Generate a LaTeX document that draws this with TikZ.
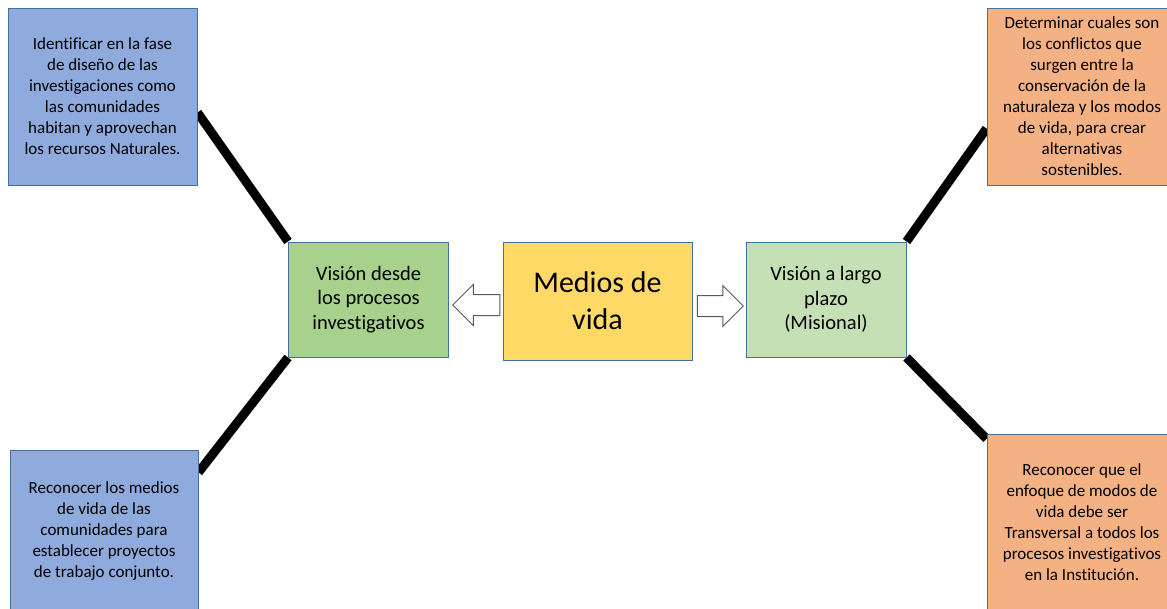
\documentclass[tikz,border=0pt]{standalone}
\usepackage{fontspec}
\setmainfont{Carlito}[Ligatures=NoCommon]
\usetikzlibrary{shapes.arrows, calc, backgrounds}

\definecolor{boxblue}{HTML}{8FAADC}
\definecolor{boxorange}{HTML}{F4B183}
\definecolor{boxgreen}{HTML}{A9D18E}
\definecolor{boxlightgreen}{HTML}{C5E0B4}
\definecolor{boxyellow}{HTML}{FFD966}
\definecolor{boxline}{HTML}{41719C}

\begin{document}
\begin{tikzpicture}[x=1pt, y=-1pt,
  every node/.style = {draw=boxline, line width=1pt, align=center, inner sep=0pt},
  idea/.style   = {font=\fontsize{17}{21}\selectfont,
    minimum width=189pt, minimum height=177pt},
  vision/.style = {font=\fontsize{20.5}{24.5}\selectfont,
    minimum width=160pt, minimum height=115pt},
  core/.style   = {fill=boxyellow, font=\fontsize{30}{37}\selectfont,
    minimum width=189pt, minimum height=118pt},
  hollow/.style = {single arrow, draw=black!65, fill=white, inner sep=10pt,
    minimum width=40pt, single arrow head extend=10pt},
  link/.style   = {line width=9pt}
  ]
  \clip (0,0) rectangle (1167,608);

  \node[core] (medios) at (597.5,301) {Medios de\\vida};
  \node[vision, fill=boxgreen] (vl) at (368.5,299.5) {Visión desde\\los procesos\\investigativos};
  \node[vision, fill=boxlightgreen] (vr) at (826,299.5) {Visión a largo\\plazo\\(Misional)};

  \node[hollow, shape border rotate=180, minimum height=47pt] (toleft) at (481.5,305) {};
  \node[hollow, minimum height=46pt] (toright) at (715,306) {};

  \node[idea, fill=boxblue] (tl) at (102.5,96.5)
    {Identificar en la fase\\de diseño de las\\investigaciones como\\las comunidades\\habitan y aprovechan\\los recursos Naturales.};
  \node[idea, fill=boxblue, minimum width=188pt, minimum height=162pt] (bl) at (104,531)
    {Reconocer los medios\\de vida de las\\comunidades para\\establecer proyectos\\de trabajo conjunto.};
  \node[idea, fill=boxorange, minimum width=190pt] (tr) at (1082,96.5)
    {Determinar cuales son\\los conflictos que\\surgen entre la\\conservación de la\\naturaleza y los modos\\de vida, para crear\\alternativas\\sostenibles.};
  \node[idea, fill=boxorange, minimum width=190pt] (br) at (1082,522.5)
    {Reconocer que el\\enfoque de modos de\\vida debe ser\\Transversal a todos los\\procesos investigativos\\en la Institución.};

  \begin{scope}[on background layer]
    \draw[link] ($(tl.north east)!0.59!(tl.south east)$) -- (vl.north west);
    \draw[link] ($(bl.north east)!0.14!(bl.south east)$) -- (vl.south west);
    \draw[link] ($(tr.north west)!0.68!(tr.south west)$) -- (vr.north east);
    \draw[link] ($(br.north west)!0.03!(br.south west)$) -- (vr.south east);
  \end{scope}
\end{tikzpicture}
\end{document}
